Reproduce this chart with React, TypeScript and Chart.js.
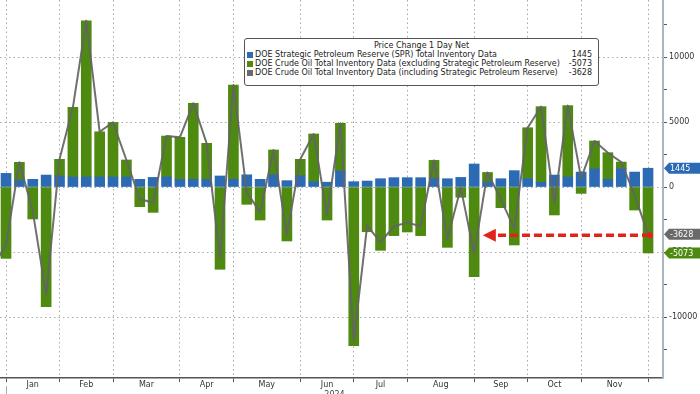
import React, { useEffect, useRef } from "react";
import { Chart, registerables } from "chart.js";

Chart.register(...registerables);

// ---- data (weekly DOE releases, 2024) ----
const weekEnding = [
  "2024-01-05", "2024-01-12", "2024-01-19", "2024-01-26",
  "2024-02-02", "2024-02-09", "2024-02-16", "2024-02-23",
  "2024-03-01", "2024-03-08", "2024-03-15", "2024-03-22", "2024-03-29",
  "2024-04-05", "2024-04-12", "2024-04-19", "2024-04-26",
  "2024-05-03", "2024-05-10", "2024-05-17", "2024-05-24", "2024-05-31",
  "2024-06-07", "2024-06-14", "2024-06-21", "2024-06-28",
  "2024-07-05", "2024-07-12", "2024-07-19", "2024-07-26",
  "2024-08-02", "2024-08-09", "2024-08-16", "2024-08-23", "2024-08-30",
  "2024-09-06", "2024-09-13", "2024-09-20", "2024-09-27",
  "2024-10-04", "2024-10-11", "2024-10-18", "2024-10-25",
  "2024-11-01", "2024-11-08", "2024-11-15", "2024-11-22", "2024-11-29",
  "2024-12-06",
];

const sprChange = [
  1050, 540, 590, 920, 850, 770, 770, 770, 770, 770, 590, 740, 770, 590, 590, 590, 850,
  590, 940, 590, 940, 490, 870, 410, 370, 1240, 410, 460, 640, 720, 720, 720, 680, 640,
  740, 1770, 380, 640, 1260, 650, 360, 920, 770, 1150, 1400, 590, 1420, 1150, 1445,
];

const crudeExSpr = [
  -5490, 1360, -2460, -9200, 1280, 5360, 12020, 3480, 4200, 1310, -1510, -1950, 3150, 3230,
  5850, 2770, -6330, 7260, -1330, -2540, 1910, -4150, 1260, 3670, -2540, 3660, -12200,
  -3440, -4870, -3740, -3460, -3740, 1370, -4640, -790, -6900, 740, -1590, -4460, 3910,
  5820, -2150, 5490, -490, 2140, 2050, 500, -1770, -5073,
];

const crudeInclSpr = [
  -4440, 1900, -1870, -8280, 2130, 6130, 12790, 4250, 4970, 2080, -920, -1210, 3920, 3820,
  6440, 3360, -5480, 7850, -390, -1950, 2850, -3660, 2130, 4080, -2170, 4900, -11790,
  -2980, -4230, -3020, -2740, -3020, 2050, -4000, -50, -5130, 1120, -950, -3200, 4560,
  6180, -1230, 6260, 660, 3540, 2640, 1920, -620, -3628,
];
const priorWeekInclSpr = -6200; // week before the first shown bar (line enters from the left edge)

const monthNames = ["Jan", "Feb", "Mar", "Apr", "May", "Jun", "Jul", "Aug", "Sep", "Oct", "Nov"];
const monthStartWeek = [0, 4, 8, 13, 17, 22, 26, 30, 35, 39, 43, 48];
const yearLabel = "2024";
const yMajorTicks = [-10000, -5000, 0, 5000, 10000];
const yMinorTicks = [-12500, -7500, -2500, 2500, 7500, 12500];

const legendTitle = "Price Change 1 Day Net";
const seriesNames = [
  "DOE Strategic Petroleum Reserve (SPR) Total Inventory Data",
  "DOE Crude Oil Total Inventory Data (excluding Strategic Petroleum Reserve)",
  "DOE Crude Oil Total Inventory Data (including Strategic Petroleum Reserve)",
];

// ---- style ----
const COLORS = { spr: "#2c6bb4", crude: "#4f8a10", total: "#6a6a6a", red: "#e2231a" };
const FONT = '"DejaVu Sans", Verdana, sans-serif';
const GRID = "#a8a8a8";
const X_MIN = -0.45;
const X_MAX = 49.12;
const Y_MIN = -14690;
const Y_MAX = 14385;
const ARROW_TIP_WEEK = 35.65;

const monthMid = monthNames.map((_, i) => (monthStartWeek[i] + monthStartWeek[i + 1]) / 2);
const isMonthStart = (v: number) => monthStartWeek.includes(v);

const overlayPlugin = {
  id: "overlay",
  afterDraw(chart: any) {
    const { ctx, chartArea } = chart;
    const x = chart.scales.x;
    const y = chart.scales.y;
    const last = sprChange.length - 1;
    ctx.save();

    // red dashed arrow at latest total level
    const ay = y.getPixelForValue(crudeInclSpr[last]) + 1;
    const xr = x.getPixelForValue(last) + 2;
    const tip = x.getPixelForValue(ARROW_TIP_WEEK);
    ctx.strokeStyle = COLORS.red;
    ctx.fillStyle = COLORS.red;
    ctx.lineWidth = 3.5;
    ctx.setLineDash([8, 4]);
    ctx.beginPath();
    ctx.moveTo(xr, ay);
    ctx.lineTo(tip + 12, ay);
    ctx.stroke();
    ctx.setLineDash([]);
    ctx.beginPath();
    ctx.moveTo(tip, ay);
    ctx.lineTo(tip + 13, ay - 6.5);
    ctx.lineTo(tip + 13, ay + 6.5);
    ctx.closePath();
    ctx.fill();
    ctx.beginPath();
    ctx.arc(xr, ay, 3, 0, Math.PI * 2);
    ctx.fill();

    // value tags on right axis
    const tags: [number, string][] = [
      [sprChange[last], COLORS.spr],
      [crudeInclSpr[last], COLORS.total],
      [crudeExSpr[last], COLORS.crude],
    ];
    ctx.font = `8px ${FONT}`;
    ctx.textBaseline = "middle";
    ctx.textAlign = "left";
    const left = chartArea.right + 1;
    for (const [v, c] of tags) {
      const ty = y.getPixelForValue(v);
      ctx.fillStyle = c;
      ctx.beginPath();
      ctx.moveTo(left, ty);
      ctx.lineTo(left + 5, ty - 5.5);
      ctx.lineTo(chart.width, ty - 5.5);
      ctx.lineTo(chart.width, ty + 5.5);
      ctx.lineTo(left + 5, ty + 5.5);
      ctx.closePath();
      ctx.fill();
      ctx.fillStyle = "#ffffff";
      ctx.fillText(String(v), left + 6, ty + 0.5);
    }

    // year label and year separator
    const x0 = x.getPixelForValue(monthStartWeek[0]);
    ctx.fillStyle = "#444";
    ctx.textAlign = "center";
    ctx.textBaseline = "top";
    ctx.fillText(yearLabel, (x0 + chartArea.right) / 2, chartArea.bottom + 13);
    ctx.strokeStyle = "#aaa";
    ctx.lineWidth = 1;
    ctx.beginPath();
    ctx.moveTo(Math.round(x0) + 0.5, chartArea.bottom + 8);
    ctx.lineTo(Math.round(x0) + 0.5, chart.height);
    ctx.stroke();

    ctx.restore();
  },
};

export default function App() {
  const canvasRef = useRef<HTMLCanvasElement | null>(null);

  useEffect(() => {
    const canvas = canvasRef.current;
    if (!canvas) return;
    const chart = new Chart(canvas, {
      type: "bar",
      data: {
        datasets: [
          {
            type: "line",
            label: seriesNames[2],
            data: [
              { x: -1, y: priorWeekInclSpr },
              ...crudeInclSpr.map((v, i) => ({ x: i, y: v })),
            ],
            borderColor: "rgba(100,100,100,0.92)",
            borderWidth: 2,
            borderJoinStyle: "round",
            pointRadius: 0,
            tension: 0,
            stack: "total",
            order: 0,
          } as any,
          {
            label: seriesNames[0],
            data: sprChange.map((v, i) => ({ x: i, y: v })),
            backgroundColor: COLORS.spr,
            barThickness: 10,
            stack: "inv",
            order: 1,
          },
          {
            label: seriesNames[1],
            data: crudeExSpr.map((v, i) => ({ x: i, y: v })),
            backgroundColor: COLORS.crude,
            barThickness: 10,
            stack: "inv",
            order: 2,
          },
        ],
      },
      options: {
        animation: false,
        responsive: false,
        devicePixelRatio: 1,
        events: [],
        layout: { padding: 0 },
        plugins: { legend: { display: false }, tooltip: { enabled: false } },
        scales: {
          x: {
            type: "linear",
            min: X_MIN,
            max: X_MAX,
            offset: false,
            stacked: true,
            afterBuildTicks: (s: any) => {
              s.ticks = [...monthStartWeek, ...monthMid]
                .sort((a, b) => a - b)
                .map((v) => ({ value: v }));
            },
            ticks: {
              autoSkip: false,
              maxRotation: 0,
              padding: -1.5,
              color: "#333",
              font: { family: FONT, size: 8 },
              callback: (v: any) => {
                const i = monthMid.indexOf(Number(v));
                return i >= 0 ? monthNames[i] : "";
              },
            },
            grid: {
              offset: false,
              color: (c: any) => (c.tick && isMonthStart(c.tick.value) ? GRID : "rgba(0,0,0,0)"),
              tickColor: (c: any) => (c.tick && isMonthStart(c.tick.value) ? "#555" : "rgba(0,0,0,0)"),
              tickLength: 4,
              lineWidth: 1,
            },
            border: { color: "#555", width: 1.5, dash: [1.5, 3] },
            afterFit: (s: any) => {
              s.height = 16;
              s.paddingLeft = 0;
              s.paddingRight = 0;
              s.paddingTop = 0;
              s.paddingBottom = 0;
            },
          } as any,
          y: {
            position: "right",
            stacked: true,
            min: Y_MIN,
            max: Y_MAX,
            afterBuildTicks: (s: any) => {
              s.ticks = [...yMajorTicks, ...yMinorTicks]
                .sort((a, b) => a - b)
                .map((v) => ({ value: v }));
            },
            ticks: {
              autoSkip: false,
              padding: 2,
              color: "#333",
              font: { family: FONT, size: 8 },
              callback: (v: any) => (yMajorTicks.includes(Number(v)) ? String(v) : ""),
            },
            grid: {
              color: (c: any) =>
                c.tick && yMajorTicks.includes(c.tick.value) ? GRID : "rgba(0,0,0,0)",
              tickColor: "#555",
              tickLength: 4,
              lineWidth: 1,
            },
            border: { color: "#a9b6c5", width: 2, dash: [1.5, 3] },
            afterFit: (s: any) => {
              s.width = 37;
              s.paddingLeft = 0;
              s.paddingRight = 0;
              s.paddingTop = 0;
              s.paddingBottom = 0;
            },
          } as any,
        },
      },
      plugins: [overlayPlugin],
    });
    return () => chart.destroy();
  }, []);

  const last = sprChange.length - 1;
  const legendRows: [string, string, number][] = [
    [seriesNames[0], COLORS.spr, sprChange[last]],
    [seriesNames[1], COLORS.crude, crudeExSpr[last]],
    [seriesNames[2], COLORS.total, crudeInclSpr[last]],
  ];

  return (
    <div
      style={{
        position: "absolute",
        left: 0,
        top: 0,
        width: 700,
        height: 394,
        overflow: "hidden",
        background: "#fff",
      }}
    >
      <canvas ref={canvasRef} width={700} height={394} style={{ display: "block" }} />
      <div
        style={{
          position: "absolute",
          left: 244,
          top: 38,
          width: 355,
          height: 48,
          boxSizing: "border-box",
          border: "1px solid #555",
          borderRadius: 3,
          background: "#fff",
          fontFamily: FONT,
          fontSize: 8,
          lineHeight: "9px",
          color: "#222",
          paddingTop: 2,
        }}
      >
        <div style={{ textAlign: "center" }}>{legendTitle}</div>
        {legendRows.map(([name, color, value]) => (
          <div key={name} style={{ display: "flex", alignItems: "center", height: 9, paddingLeft: 2, paddingRight: 6 }}>
            <span
              style={{
                display: "inline-block",
                width: 6,
                height: 6,
                background: color,
                marginRight: 2,
                flex: "none",
              }}
            />
            <span style={{ flex: 1, whiteSpace: "nowrap" }}>{name}</span>
            <span style={{ whiteSpace: "nowrap" }}>{value}</span>
          </div>
        ))}
      </div>
    </div>
  );
}
